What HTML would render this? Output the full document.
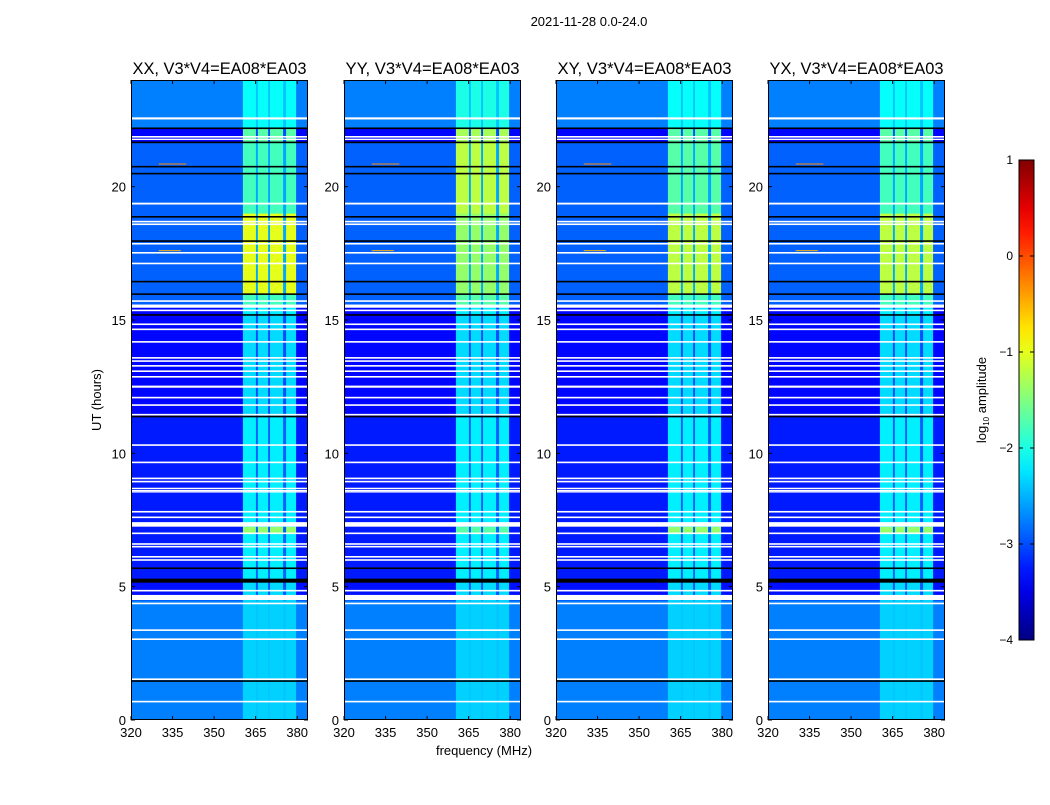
<!DOCTYPE html>
<html><head><meta charset="utf-8">
<style>
html,body{margin:0;padding:0;background:#fff;}
body{width:1050px;height:800px;overflow:hidden;font-family:"Liberation Sans",sans-serif;}
svg text{font-family:"Liberation Sans",sans-serif;}
</style></head>
<body>
<svg id="fig" width="1050" height="800" xmlns="http://www.w3.org/2000/svg">
<text x="589" y="26" font-size="13" text-anchor="middle">2021-11-28 0.0-24.0</text>
<text x="484" y="755" font-size="13" text-anchor="middle">frequency (MHz)</text>
<text transform="translate(101,400) rotate(-90)" font-size="13" text-anchor="middle">UT (hours)</text>
<text transform="translate(986,400) rotate(-90)" font-size="13" text-anchor="middle">log<tspan font-size="8" dy="3">10</tspan><tspan dy="-3"> amplitude</tspan></text>
<g id="panels"></g>
<g id="cbar"></g>
</svg>
<script>
// ---- data ----
const panelTitles = ["XX, V3*V4=EA08*EA03","YY, V3*V4=EA08*EA03","XY, V3*V4=EA08*EA03","YX, V3*V4=EA08*EA03"];
const xTicks = [320,335,350,365,380];
const yTicks = [0,5,10,15,20];
const cbarTicks = [1,0,-1,-2,-3,-4];
// time regions (hours) with background level and band level (log10 amp)
const timeEdges = [0,4.5,5.2,7.0,7.25,11.4,15.2,15.5,16.0,19.0,21.66,22.2,24];
const bgLevel   = [-2.75,-3.3,-3.25,-3.25,-3.25,-3.35,-3.35,-2.9,-2.9,-2.9,-3.35,-2.75];
const bandLevelXX = [-2.35,-2.3,-2.2,-1.4,-2.2,-2.3,-2.2,-1.8,-1.0,-1.8,-1.7,-2.1];
const bandLevelYY = [-2.35,-2.3,-2.2,-1.7,-2.2,-2.3,-2.2,-1.7,-1.4,-1.2,-1.3,-2.0];
const bandLevelXY = [-2.35,-2.3,-2.2,-1.4,-2.2,-2.3,-2.2,-1.8,-1.2,-1.7,-1.7,-2.1];
const bandLevelYX = [-2.35,-2.3,-2.2,-1.4,-2.2,-2.3,-2.2,-1.8,-1.2,-1.8,-1.7,-2.1];
const bandLevels = [bandLevelXX,bandLevelYY,bandLevelXY,bandLevelYX];
// frequency bands (MHz): 0=background,1=bright band,2=gap
const freqEdges = [320,360.4,365.1,365.8,369.5,370.2,374.9,376.0,379.6,384];
const freqType  = [0,1,2,1,2,1,2,1,0];
// flagged (white) rows: [start,end] hours
const whiteRows = [[22.52,22.60],[21.84,21.90],[21.75,21.80],[19.33,19.40],[18.66,18.72],[18.56,18.62],[17.83,17.89],[17.49,17.55],[17.09,17.15],[15.68,15.74],[15.46,15.58],[15.33,15.39],[14.81,14.87],[14.62,14.68],[14.15,14.21],[13.55,13.61],[13.43,13.49],[13.25,13.31],[13.05,13.11],[12.84,12.90],[12.46,12.54],[12.06,12.12],[11.78,11.84],[11.42,11.48],[10.28,10.34],[9.63,9.69],[9.03,9.09],[8.91,8.97],[8.66,8.71],[8.58,8.63],[8.53,8.58],[7.78,7.84],[7.57,7.63],[7.25,7.42],[6.97,7.03],[6.57,6.63],[6.47,6.53],[6.09,6.15],[5.97,6.03],[4.82,4.88],[4.50,4.69],[4.34,4.40],[3.34,3.40],[3.00,3.06],[1.50,1.56],[0.66,0.72]];
// dark (black) rows
const blackRows = [[22.16,22.22],[21.63,21.69],[20.72,20.78],[20.46,20.52],[18.84,18.90],[17.93,17.99],[16.41,16.47],[15.94,16.00],[15.16,15.22],[11.35,11.41],[5.66,5.72],[5.15,5.30],[1.43,1.49]];
// RFI spikes: [hour, fStart, fEnd, level]
const spikes = [[20.85,330,340,-0.3],[17.6,330,338,-0.5]];

// ---- scales ----
const panelX = [131,344,556,768], panelW = 177, panelTop = 80, panelBot = 720;
const fMin = 320, pxPerMHz = 2.77;
function xs(p,f){return panelX[p] + (f-fMin)*pxPerMHz;}
function ys(h){return panelBot - (h/24)*(panelBot-panelTop);}
function jet(v){
  let t=(v+4)/5; t=Math.max(0,Math.min(1,t));
  const c=x=>Math.round(255*Math.max(0,Math.min(1,x)));
  return `rgb(${c(1.5-Math.abs(4*t-3))},${c(1.5-Math.abs(4*t-2))},${c(1.5-Math.abs(4*t-1))})`;
}
const NS="http://www.w3.org/2000/svg";
function mk(tag,attrs,parent){const e=document.createElementNS(NS,tag);for(const k in attrs)e.setAttribute(k,attrs[k]);parent.appendChild(e);return e;}

const G=document.getElementById('panels');
for(let p=0;p<4;p++){
  const g=mk('g',{},G);
  
  
  const cp=mk('clipPath',{id:'cp'+p},g);
  mk('rect',{x:panelX[p],y:panelTop,width:panelW,height:panelBot-panelTop},cp);
  const hm=mk('g',{'clip-path':'url(#cp'+p+')'},g);
  
  
  for(let i=0;i<bgLevel.length;i++){
    const y1=ys(timeEdges[i+1]), y0=ys(timeEdges[i]);
    for(let j=0;j<freqType.length;j++){
      const x0=xs(p,freqEdges[j]), x1=xs(p,freqEdges[j+1]);
      const bg=bgLevel[i], bd=bandLevels[p][i];
      const v = freqType[j]===0?bg:(freqType[j]===1?bd:bg+0.35);
      const r=mk('rect',{x:x0,y:y1,width:x1-x0+0.3,height:y0-y1+0.3,fill:jet(v)},hm);
      
      
    }
  }
  spikes.forEach(s=>{
    const r=mk('rect',{x:xs(p,s[1]),y:ys(s[0])-0.5,width:(s[2]-s[1])*pxPerMHz,height:1,fill:jet(s[3])},hm);
    
    
  });
  blackRows.forEach(b=>{
    const r=mk('rect',{x:panelX[p],y:ys(b[1]),width:panelW,height:Math.max(1,ys(b[0])-ys(b[1])),fill:'#000'},hm);
    
    
  });
  whiteRows.forEach(b=>{
    const r=mk('rect',{x:panelX[p],y:ys(b[1]),width:panelW,height:Math.max(1,ys(b[0])-ys(b[1])),fill:'#fff'},hm);
    
    
  });
  const fr=mk('rect',{x:panelX[p]+0.5,y:panelTop+0.5,width:panelW-1,height:panelBot-panelTop-1,fill:'none',stroke:'#000','stroke-width':1},g);
  
  
  const t=mk('text',{x:panelX[p]+panelW/2,y:74,'font-size':16.5,'text-anchor':'middle',textLength:174,lengthAdjust:'spacingAndGlyphs'},g);
  t.textContent=panelTitles[p];
  
  
  xTicks.forEach(f=>{
    const x=xs(p,f);
    mk('line',{x1:x,x2:x,y1:panelBot,y2:panelBot-4,stroke:'#000'},g);
    mk('line',{x1:x,x2:x,y1:panelTop,y2:panelTop+4,stroke:'#000'},g);
    const tl=mk('text',{x:x,y:737,'font-size':13,'text-anchor':'middle'},g);
    tl.textContent=f;
    
    
  });
  yTicks.forEach(h=>{
    const y=ys(h);
    mk('line',{x1:panelX[p],x2:panelX[p]+4,y1:y,y2:y,stroke:'#000'},g);
    mk('line',{x1:panelX[p]+panelW,x2:panelX[p]+panelW-4,y1:y,y2:y,stroke:'#000'},g);
    const tl=mk('text',{x:panelX[p]-5,y:y+5,'font-size':13,'text-anchor':'end'},g);
    tl.textContent=h;
    
    
  });
}
// colorbar
const C=document.getElementById('cbar');
const cbX=1019,cbW=15,cbTop=160,cbBot=640;
function cy(v){return cbBot-(v+4)/5*(cbBot-cbTop);}
const defs=mk('defs',{},C);
const lg=mk('linearGradient',{id:'jetg',x1:0,y1:1,x2:0,y2:0},defs);
for(let k=0;k<=20;k++){const v=-4+k*5/20;mk('stop',{offset:k/20,'stop-color':jet(v)},lg);}
const cb=mk('rect',{x:cbX,y:cbTop,width:cbW,height:cbBot-cbTop,fill:'url(#jetg)',stroke:'#000','stroke-width':1},C);


cbarTicks.forEach(v=>{
  const y=cy(v);
  mk('line',{x1:cbX,x2:cbX+4,y1:y,y2:y,stroke:'#000'},C);
  mk('line',{x1:cbX+cbW,x2:cbX+cbW-4,y1:y,y2:y,stroke:'#000'},C);
  const tl=mk('text',{x:cbX-6,y:y+4,'font-size':12,'text-anchor':'end'},C);
  tl.textContent=(v<0?'\u2212'+(-v):String(v));
  
  
});
</script>
</body></html>
